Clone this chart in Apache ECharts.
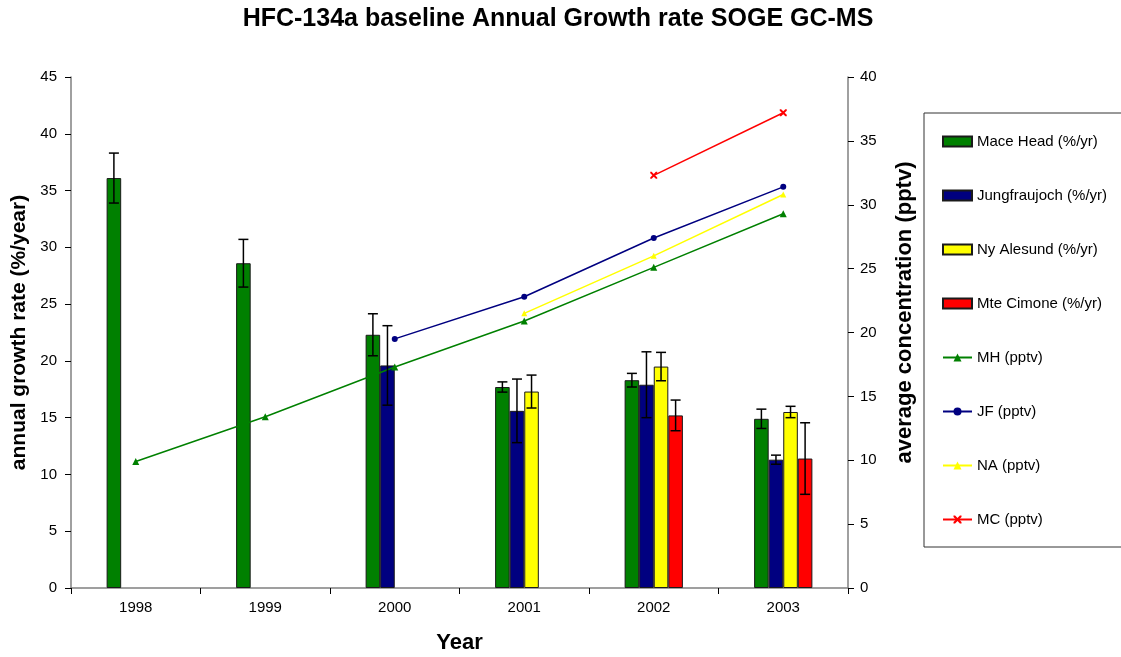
<!DOCTYPE html>
<html>
<head>
<meta charset="utf-8">
<script src="https://cdn.jsdelivr.net/npm/echarts@6/dist/echarts.min.js"></script>
<style>
html,body{margin:0;padding:0;background:#fff;}
#chart{width:1121px;height:657px;}
</style>
</head>
<body>
<div id="chart"></div>
<script>
const years = ['1998', '1999', '2000', '2001', '2002', '2003'];

// annual growth rate (%/yr), left axis
const mhRate = [36.1, 28.6, 22.3, 17.7, 18.3, 14.9];
const jfRate = [null, null, 19.6, 15.6, 17.9, 11.3];
const naRate = [null, null, null, 17.3, 19.5, 15.5];
const mcRate = [null, null, null, null, 15.2, 11.4];

// error (+/-) of growth rates
const mhErr = [2.2, 2.1, 1.85, 0.45, 0.6, 0.85];
const jfErr = [null, null, 3.5, 2.8, 2.9, 0.4];
const naErr = [null, null, null, 1.45, 1.25, 0.5];
const mcErr = [null, null, null, null, 1.35, 3.15];

// average concentration (pptv), right axis
const mhConc = [9.9, 13.4, 17.3, 20.9, 25.1, 29.3];
const jfConc = [null, null, 19.5, 22.8, 27.4, 31.4];
const naConc = [null, null, null, 21.5, 26.0, 30.8];
const mcConc = [null, null, null, null, 32.3, 37.2];

const leftTicks = [0, 5, 10, 15, 20, 25, 30, 35, 40, 45];
const rightTicks = [0, 5, 10, 15, 20, 25, 30, 35, 40];

const FONT = 'Liberation Sans, Arial, sans-serif';
const BAR_FRAC = 0.1125;

const chart = echarts.init(document.getElementById('chart'));

function errSeries(vals, errs, idx) {
  const data = [];
  vals.forEach((v, i) => { if (v != null && errs[i] != null) data.push([i, v - errs[i], v + errs[i]]); });
  return {
    type: 'custom',
    yAxisIndex: 0,
    z: 10,
    silent: true,
    data: data,
    encode: { x: 0, y: [1, 2] },
    renderItem: function (params, api) {
      const band = api.size([1, 0])[0];
      const bw = band * BAR_FRAC;
      const off = (idx - 1.5) * bw;
      const lo = api.coord([api.value(0), api.value(1)]);
      const hi = api.coord([api.value(0), api.value(2)]);
      const x = lo[0] + off;
      const cap = 5;
      const st = { stroke: '#000', lineWidth: 1.5 };
      return {
        type: 'group',
        children: [
          { type: 'line', shape: { x1: x, y1: lo[1], x2: x, y2: hi[1] }, style: st },
          { type: 'line', shape: { x1: x - cap, y1: lo[1], x2: x + cap, y2: lo[1] }, style: st },
          { type: 'line', shape: { x1: x - cap, y1: hi[1], x2: x + cap, y2: hi[1] }, style: st }
        ]
      };
    }
  };
}

function barSeries(name, vals, color) {
  return {
    name: name, type: 'bar', yAxisIndex: 0, data: vals,
    barWidth: (BAR_FRAC * 100) + '%', barGap: '0%',
    itemStyle: { color: color, borderColor: '#1a1a1a', borderWidth: 1 }
  };
}

function lineSeries(name, vals, color, symbol, size) {
  return {
    name: name, type: 'line', yAxisIndex: 1, data: vals,
    symbol: symbol, symbolSize: size, showSymbol: true,
    lineStyle: { color: color, width: 1.5 },
    itemStyle: { color: color },
    z: 5
  };
}

const xMark = 'path://M0,0 L2,0 L5,3 L8,0 L10,0 L10,2 L7,5 L10,8 L10,10 L8,10 L5,7 L2,10 L0,10 L0,8 L3,5 L0,2 Z';

const option = {
  animation: false,
  backgroundColor: '#fff',
  title: {
    text: 'HFC-134a baseline Annual Growth rate SOGE GC-MS',
    left: 553, top: 2, textAlign: 'center',
    textStyle: { fontFamily: FONT, fontSize: 25, fontWeight: 'bold', color: '#000' }
  },
  legend: {
    orient: 'vertical',
    left: 924, top: 113,
    padding: [21, 60, 20, 18],
    itemGap: 39,
    itemWidth: 29, itemHeight: 10,
    borderColor: '#333', borderWidth: 1,
    textStyle: { fontFamily: FONT, fontSize: 15, color: '#000' },
    data: [
      { name: 'Mace Head (%/yr)', icon: 'rect' },
      { name: 'Jungfraujoch (%/yr)', icon: 'rect' },
      { name: 'Ny Alesund (%/yr)', icon: 'rect' },
      { name: 'Mte Cimone (%/yr)', icon: 'rect' },
      'MH (pptv)', 'JF (pptv)', 'NA (pptv)', 'MC (pptv)']
  },
  grid: { left: 71, right: 273, top: 77, bottom: 69, outerBoundsMode: 'none', containLabel: false },
  xAxis: {
    type: 'category', data: years,
    name: 'Year', nameLocation: 'middle', nameGap: 44,
    nameTextStyle: { fontFamily: FONT, fontSize: 22, fontWeight: 'bold', color: '#000' },
    axisLine: { lineStyle: { color: '#808080', width: 1.5 } },
    axisTick: { show: true, length: 6, lineStyle: { color: '#000' } },
    axisLabel: { fontFamily: FONT, fontSize: 15, color: '#000', margin: 12 }
  },
  yAxis: [
    {
      type: 'value', min: 0, max: 45, interval: 5, position: 'left',
      name: 'annual growth rate (%/year)', nameLocation: 'middle', nameGap: 35, nameRotate: 90,
      nameTextStyle: { fontFamily: FONT, fontSize: 21, fontWeight: 'bold', color: '#000' },
      axisLine: { show: true, lineStyle: { color: '#808080', width: 1.5 } },
      axisTick: { show: true, length: 6, lineStyle: { color: '#000' } },
      axisLabel: { fontFamily: FONT, fontSize: 15, color: '#000', margin: 14,
        formatter: v => leftTicks.includes(v) ? String(v) : '' },
      splitLine: { show: false }
    },
    {
      type: 'value', min: 0, max: 40, interval: 5, position: 'right',
      name: 'average concentration (pptv)', nameLocation: 'middle', nameGap: 46, nameRotate: 90,
      nameTextStyle: { fontFamily: FONT, fontSize: 22, fontWeight: 'bold', color: '#000', padding: [0, 0, 0, 40] },
      axisLine: { show: true, lineStyle: { color: '#808080', width: 1.5 } },
      axisTick: { show: true, length: 6, lineStyle: { color: '#000' } },
      axisLabel: { fontFamily: FONT, fontSize: 15, color: '#000', margin: 12,
        formatter: v => rightTicks.includes(v) ? String(v) : '' },
      splitLine: { show: false }
    }
  ],
  series: [
    barSeries('Mace Head (%/yr)', mhRate, '#008000'),
    barSeries('Jungfraujoch (%/yr)', jfRate, '#000080'),
    barSeries('Ny Alesund (%/yr)', naRate, '#FFFF00'),
    barSeries('Mte Cimone (%/yr)', mcRate, '#FF0000'),
    lineSeries('MH (pptv)', mhConc, '#008000', 'triangle', 7),
    lineSeries('JF (pptv)', jfConc, '#000080', 'circle', 6),
    lineSeries('NA (pptv)', naConc, '#FFFF00', 'triangle', 6),
    lineSeries('MC (pptv)', mcConc, '#FF0000', xMark, 7),
    errSeries(mhRate, mhErr, 0),
    errSeries(jfRate, jfErr, 1),
    errSeries(naRate, naErr, 2),
    errSeries(mcRate, mcErr, 3)
  ]
};
chart.setOption(option);
</script>
</body>
</html>
